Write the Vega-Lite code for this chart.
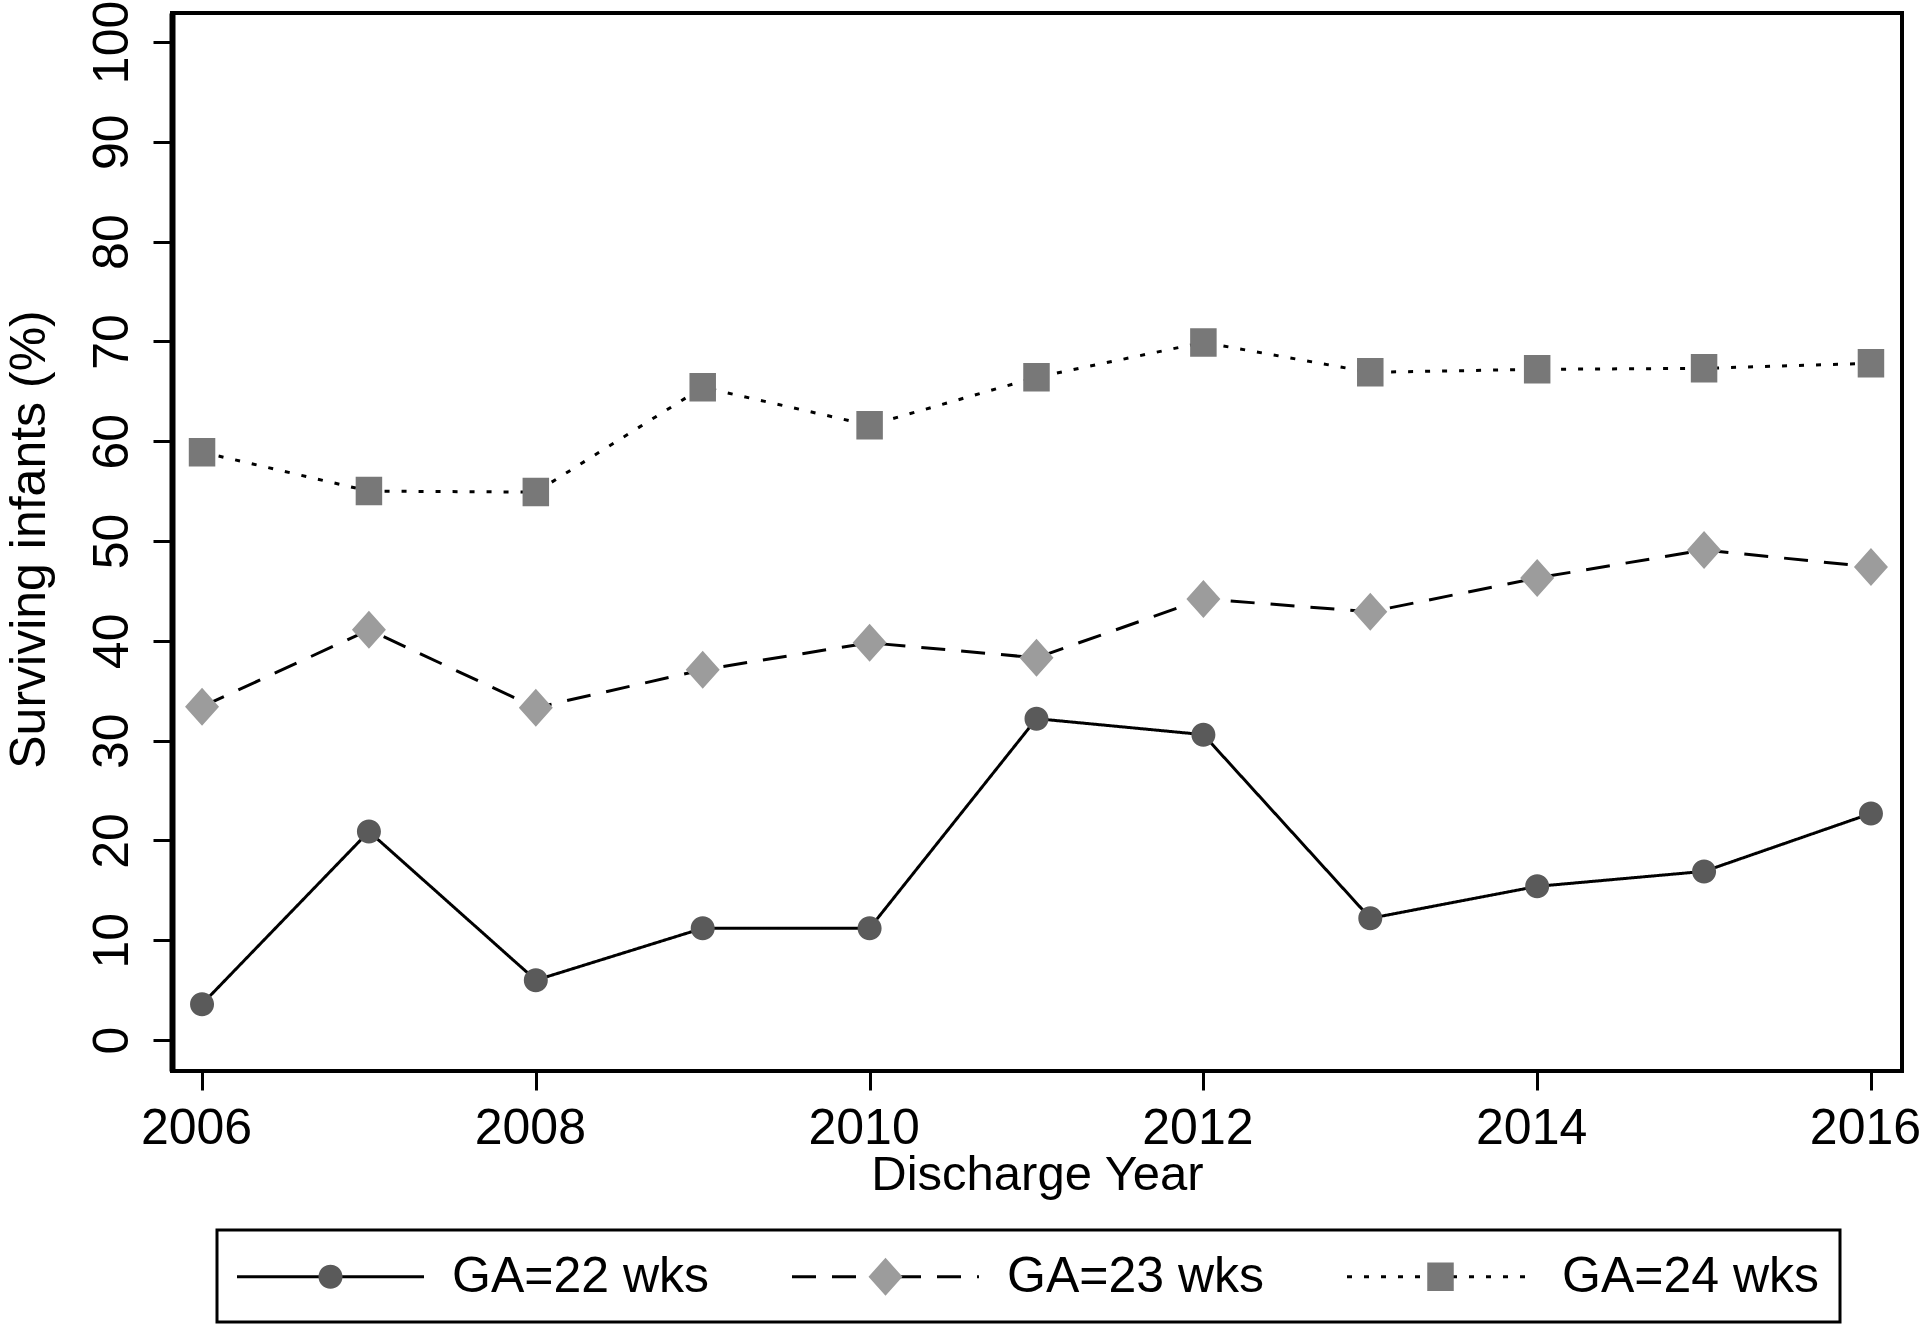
{
  "$schema": "https://vega.github.io/schema/vega-lite/v6.json",
  "width": 1730,
  "height": 1058,
  "autosize": {"type": "none"},
  "padding": {"left": 172, "top": 13, "right": 18, "bottom": 254},
  "background": "white",
  "data": {"values": [
    {"year": 2006, "series": "GA=22 wks", "pct": 3.6},
    {"year": 2007, "series": "GA=22 wks", "pct": 20.9},
    {"year": 2008, "series": "GA=22 wks", "pct": 6.0},
    {"year": 2009, "series": "GA=22 wks", "pct": 11.2},
    {"year": 2010, "series": "GA=22 wks", "pct": 11.2},
    {"year": 2011, "series": "GA=22 wks", "pct": 32.2},
    {"year": 2012, "series": "GA=22 wks", "pct": 30.6},
    {"year": 2013, "series": "GA=22 wks", "pct": 12.2},
    {"year": 2014, "series": "GA=22 wks", "pct": 15.4},
    {"year": 2015, "series": "GA=22 wks", "pct": 16.9},
    {"year": 2016, "series": "GA=22 wks", "pct": 22.7},
    {"year": 2006, "series": "GA=23 wks", "pct": 33.4},
    {"year": 2007, "series": "GA=23 wks", "pct": 41.1},
    {"year": 2008, "series": "GA=23 wks", "pct": 33.3},
    {"year": 2009, "series": "GA=23 wks", "pct": 37.1},
    {"year": 2010, "series": "GA=23 wks", "pct": 39.8},
    {"year": 2011, "series": "GA=23 wks", "pct": 38.3},
    {"year": 2012, "series": "GA=23 wks", "pct": 44.2},
    {"year": 2013, "series": "GA=23 wks", "pct": 42.9},
    {"year": 2014, "series": "GA=23 wks", "pct": 46.3},
    {"year": 2015, "series": "GA=23 wks", "pct": 49.1},
    {"year": 2016, "series": "GA=23 wks", "pct": 47.4},
    {"year": 2006, "series": "GA=24 wks", "pct": 58.9},
    {"year": 2007, "series": "GA=24 wks", "pct": 55.0},
    {"year": 2008, "series": "GA=24 wks", "pct": 54.9},
    {"year": 2009, "series": "GA=24 wks", "pct": 65.4},
    {"year": 2010, "series": "GA=24 wks", "pct": 61.6},
    {"year": 2011, "series": "GA=24 wks", "pct": 66.4},
    {"year": 2012, "series": "GA=24 wks", "pct": 69.9},
    {"year": 2013, "series": "GA=24 wks", "pct": 66.9},
    {"year": 2014, "series": "GA=24 wks", "pct": 67.2},
    {"year": 2015, "series": "GA=24 wks", "pct": 67.3},
    {"year": 2016, "series": "GA=24 wks", "pct": 67.8}
  ]},
  "encoding": {
    "x": {
      "field": "year", "type": "quantitative",
      "scale": {"domain": [2005.82, 2016.186], "nice": false, "zero": false},
      "axis": {
        "values": [2006, 2008, 2010, 2012, 2014, 2016], "format": "d",
        "labelFlush": false, "labelPadding": 13, "labelFontSize": 50, "labelOffset": -6,
        "tickSize": 19, "tickWidth": 3, "domain": false, "grid": false,
        "title": "Discharge Year", "titleFontSize": 49, "titleBaseline": "alphabetic",
        "titleY": 118, "titleAnchor": "middle"
      }
    },
    "y": {
      "field": "pct", "type": "quantitative",
      "scale": {"domain": [-3.1, 102.9], "nice": false, "zero": false},
      "axis": {
        "values": [0, 10, 20, 30, 40, 50, 60, 70, 80, 90, 100],
        "labelAngle": 270, "labelAlign": "center", "labelBaseline": "alphabetic",
        "labelPadding": 26, "labelFontSize": 50,
        "tickSize": 19, "tickWidth": 3, "domain": true, "domainWidth": 6, "grid": false,
        "title": "Surviving infants (%)", "titleFontSize": 50, "titleAngle": 270,
        "titleBaseline": "alphabetic", "titleAlign": "center", "titleX": -128, "titleY": 526
      }
    }
  },
  "layer": [
    {
      "mark": {"type": "line", "color": "black", "strokeWidth": 3},
      "encoding": {
        "strokeDash": {
          "field": "series", "type": "nominal",
          "scale": {"range": [[1, 0], [24, 16], [5, 12]]},
          "legend": {
            "title": null, "orient": "none", "legendX": 45, "legendY": 1217,
            "direction": "horizontal",
            "symbolType": "M-3.74,0H-0.46M0.46,0H3.74",
            "symbolSize": 2500, "symbolStrokeWidth": 3, "symbolStrokeColor": "black", "symbolOffset": 67,
            "labelOpacity": 0, "labelFontSize": 50, "labelOffset": 95, "columnPadding": 76,
            "padding": 20
          }
        }
      }
    },
    {
      "mark": {"type": "point", "filled": true, "opacity": 1, "size": 2500},
      "encoding": {
        "fill": {
          "field": "series", "type": "nominal",
          "scale": {"domain": ["GA=22 wks", "GA=23 wks", "GA=24 wks"], "range": ["#5a5a5a", "#9c9c9c", "#787878"]},
          "legend": {
            "title": null, "orient": "none", "legendX": 45, "legendY": 1217,
            "direction": "horizontal", "symbolSize": 2500, "symbolStrokeWidth": 3, "symbolOffset": 67,
            "symbolStrokeColor": "transparent", "symbolOpacity": 1,
            "labelFontSize": 50, "labelOffset": 95, "columnPadding": 76, "padding": 20, "labelColor": "black",
            "strokeColor": "black",
            "encode": {"legend": {"update": {"strokeWidth": {"value": 3}}}}
          }
        },
        "shape": {
          "field": "series", "type": "nominal",
          "scale": {
            "domain": ["GA=22 wks", "GA=23 wks", "GA=24 wks"],
            "range": [
              "M-3.74,0H3.74M0.48,0A0.48,0.48,0,1,1,-0.48,0A0.48,0.48,0,1,1,0.48,0Z",
              "M-3.74,0H3.74M0,-0.76L0.68,0L0,0.76L-0.68,0Z",
              "M-3.74,0H3.74M-0.53,-0.57H0.53V0.57H-0.53Z"
            ]
          },
          "legend": {
            "title": null, "orient": "none", "legendX": 45, "legendY": 1217,
            "direction": "horizontal", "symbolSize": 2500, "symbolStrokeWidth": 3, "symbolOffset": 67,
            "symbolStrokeColor": "transparent", "symbolOpacity": 1,
            "labelFontSize": 50, "labelOffset": 95, "columnPadding": 76, "padding": 20, "labelColor": "black",
            "strokeColor": "black",
            "encode": {"legend": {"update": {"strokeWidth": {"value": 3}}}}
          }
        }
      }
    }
  ],
  "config": {
    "font": "Liberation Sans",
    "view": {"stroke": "black", "strokeWidth": 4},
    "axis": {
      "labelFont": "Liberation Sans", "titleFont": "Liberation Sans",
      "labelColor": "black", "titleColor": "black", "tickColor": "black", "domainColor": "black",
      "titleFontWeight": "normal"
    },
    "legend": {"labelFont": "Liberation Sans", "labelLimit": 0}
  }
}
